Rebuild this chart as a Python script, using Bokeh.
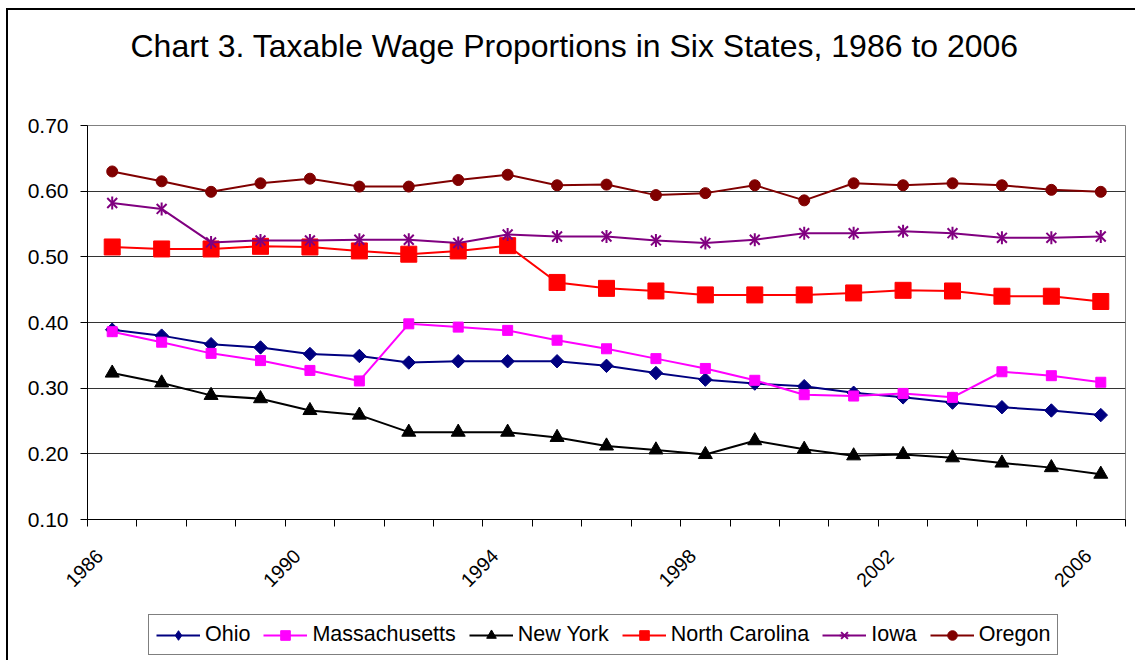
import numpy as np
from bokeh.plotting import figure
from bokeh.layouts import column
from bokeh.models import Range1d, FixedTicker, PrintfTickFormatter, Legend, LegendItem
from bokeh.embed import file_html
from bokeh.resources import INLINE

years = list(range(1986, 2007))
year_labels = [1986, 1990, 1994, 1998, 2002, 2006]
y_ticks = [0.10, 0.20, 0.30, 0.40, 0.50, 0.60, 0.70]

ohio = [0.389, 0.380, 0.367, 0.362, 0.352, 0.349, 0.339, 0.341, 0.341, 0.341,
        0.334, 0.323, 0.313, 0.307, 0.303, 0.293, 0.286, 0.278, 0.271, 0.266, 0.259]
massachusetts = [0.386, 0.370, 0.353, 0.342, 0.327, 0.311, 0.398, 0.393, 0.388, 0.373,
                 0.360, 0.345, 0.330, 0.312, 0.290, 0.288, 0.292, 0.286, 0.325, 0.319, 0.309]
new_york = [0.323, 0.308, 0.289, 0.284, 0.266, 0.259, 0.233, 0.233, 0.233, 0.225,
            0.212, 0.206, 0.199, 0.220, 0.207, 0.197, 0.199, 0.194, 0.186, 0.179, 0.169]
north_carolina = [0.515, 0.512, 0.512, 0.516, 0.515, 0.509, 0.504, 0.509, 0.517, 0.461,
                  0.452, 0.448, 0.442, 0.442, 0.442, 0.445, 0.449, 0.448, 0.440, 0.440, 0.432]
iowa = [0.582, 0.573, 0.522, 0.525, 0.525, 0.526, 0.526, 0.521, 0.534, 0.531,
        0.531, 0.525, 0.521, 0.526, 0.536, 0.536, 0.539, 0.536, 0.529, 0.529, 0.531]
oregon = [0.630, 0.615, 0.599, 0.612, 0.619, 0.607, 0.607, 0.617, 0.625, 0.609,
          0.610, 0.594, 0.597, 0.609, 0.586, 0.612, 0.609, 0.612, 0.609, 0.602, 0.599]

names = ["Ohio", "Massachusetts", "New York", "North Carolina", "Iowa", "Oregon"]
values = [ohio, massachusetts, new_york, north_carolina, iowa, oregon]
colors = ["#000080", "#FF00FF", "black", "#FF0000", "#800080", "#800000"]

FONT = "Liberation Sans"

p = figure(width=1127, height=600, output_backend="svg", toolbar_location=None,
           x_range=Range1d(1985.5, 2006.5), y_range=Range1d(0.10, 0.70),
           min_border_left=79, min_border_right=10, min_border_top=115, min_border_bottom=91)

p.title.text = "Chart 3. Taxable Wage Proportions in Six States, 1986 to 2006\n"
p.title.text_font = FONT
p.title.text_font_size = "32px"
p.title.text_font_style = "normal"
p.title.text_color = "black"
p.title.text_line_height = 1.5
p.title.align = "left"
p.title.offset = 43
p.title.standoff = 16

p.outline_line_color = "#808080"
p.outline_line_width = 1
p.background_fill_color = "white"
p.border_fill_color = "white"

# y axis
p.yaxis.ticker = FixedTicker(ticks=y_ticks)
p.yaxis.formatter = PrintfTickFormatter(format="%.2f")
p.yaxis.axis_line_color = "black"
p.yaxis.major_tick_line_color = "black"
p.yaxis.major_tick_out = 7
p.yaxis.major_tick_in = 0
p.yaxis.minor_tick_line_color = None
p.yaxis.major_label_text_font = FONT
p.yaxis.major_label_text_font_size = "21px"
p.yaxis.major_label_text_color = "black"
p.yaxis.major_label_standoff = 12

# x axis: labels every 4 years, ticks at category boundaries
label_shift = -0.26
p.xaxis.ticker = FixedTicker(ticks=[y + label_shift for y in year_labels],
                             minor_ticks=[y - 0.5 for y in years] + [years[-1] + 0.5])
p.xaxis.formatter = PrintfTickFormatter(format="%.0f")
p.xaxis.axis_line_color = "black"
p.xaxis.major_tick_line_color = None
p.xaxis.major_tick_out = 0
p.xaxis.major_tick_in = 0
p.xaxis.minor_tick_line_color = "black"
p.xaxis.minor_tick_out = 7
p.xaxis.minor_tick_in = 0
p.xaxis.major_label_orientation = np.pi / 4
p.xaxis.major_label_text_font = FONT
p.xaxis.major_label_text_font_size = "19.5px"
p.xaxis.major_label_text_color = "black"
p.xaxis.major_label_standoff = 26

p.xgrid.visible = False
p.ygrid.ticker = FixedTicker(ticks=y_ticks)
p.ygrid.grid_line_color = "#333333"
p.ygrid.grid_line_width = 1


def add_markers(fig, name, xs, ys, color, legend_swatch=False):
    rs = []
    if name == "Ohio":
        if legend_swatch:
            rs.append(fig.scatter(xs, ys, marker="diamond", size=12,
                                  fill_color=color, line_color=color))
        else:
            rs.append(fig.scatter(xs, ys, marker="square", angle=np.pi / 4, size=9.5,
                                  fill_color=color, line_color=color))
    elif name == "Massachusetts":
        rs.append(fig.scatter(xs, ys, marker="square", size=10, fill_color=color, line_color=color))
    elif name == "New York":
        rs.append(fig.scatter(xs, ys, marker="triangle", size=14, fill_color=color, line_color=color))
    elif name == "North Carolina":
        rs.append(fig.scatter(xs, ys, marker="square", size=16, fill_color=color, line_color=color))
    elif name == "Iowa":
        rs.append(fig.scatter(xs, ys, marker="x", size=14, line_color=color, line_width=2))
        rs.append(fig.scatter(xs, ys, marker="dash", angle=np.pi / 2, size=13,
                              line_color=color, line_width=2))
    else:
        rs.append(fig.scatter(xs, ys, marker="circle", size=11, fill_color=color, line_color=color))
    return rs


for name, vals, color in zip(names, values, colors):
    p.line(years, vals, line_color=color, line_width=2)
    add_markers(p, name, years, vals, color)

# legend strip (separate canvas so the legend is not clipped by the plot frame)
q = figure(width=1127, height=50, output_backend="svg", toolbar_location=None,
           x_range=Range1d(0, 1), y_range=Range1d(0, 1), min_border=0,
           x_axis_location=None, y_axis_location=None)
q.grid.visible = False
q.outline_line_color = None
q.background_fill_color = "white"
q.border_fill_color = "white"

items = []
for name, color in zip(names, colors):
    # one undrawn (NaN) sample so the legend swatch has style values to use
    rl = q.line([np.nan], [np.nan], line_color=color, line_width=2)
    rs = [rl] + add_markers(q, name, [np.nan], [np.nan], color, legend_swatch=True)
    items.append(LegendItem(label=name, renderers=rs))

legend = Legend(items=items, orientation="horizontal", location=(61, 5))
legend.label_text_font = FONT
legend.label_text_font_size = "21.5px"
legend.label_text_color = "black"
legend.glyph_width = 44
legend.glyph_height = 24
legend.label_standoff = 5
legend.spacing = 13
legend.padding = 7
legend.margin = 0
legend.border_line_color = "black"
legend.border_line_width = 1
legend.background_fill_color = "white"
legend.background_fill_alpha = 1
q.add_layout(legend, "center")

layout = column(p, q, spacing=0)
layout.styles = {"margin-left": "6px", "margin-top": "8px",
                 "border-left": "2px solid black", "border-top": "2px solid black"}

open("out.html", "w").write(file_html(layout, INLINE))
